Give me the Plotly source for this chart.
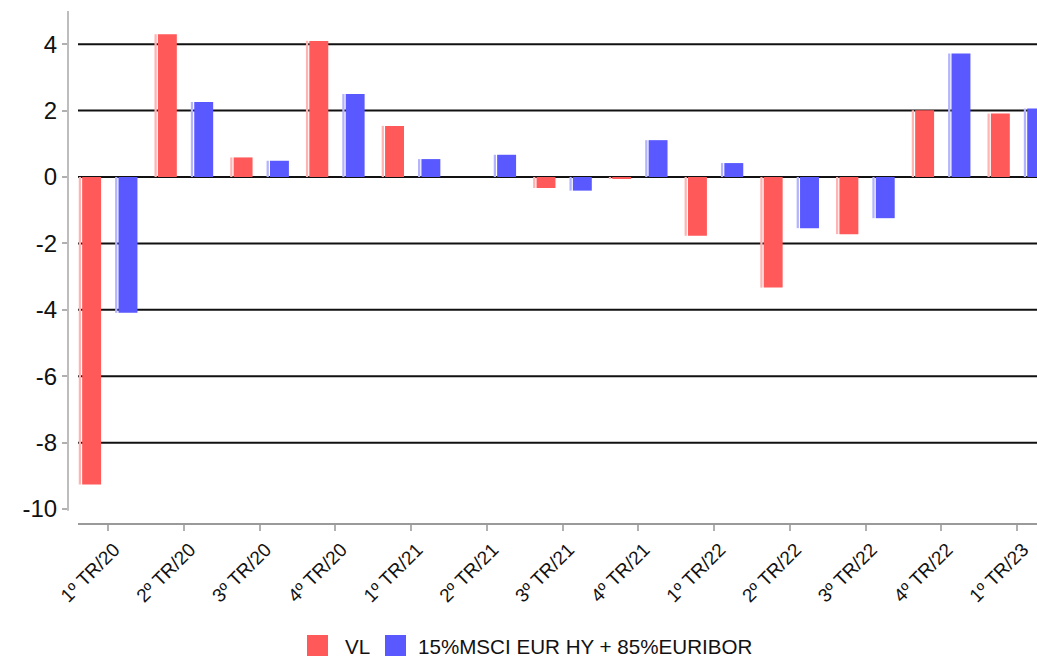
import plotly.graph_objects as go

# Quarterly returns (%)
quarters = ["1º TR/20", "2º TR/20", "3º TR/20", "4º TR/20", "1º TR/21", "2º TR/21",
            "3º TR/21", "4º TR/21", "1º TR/22", "2º TR/22", "3º TR/22", "4º TR/22", "1º TR/23"]
vl = [-9.26, 4.30, 0.59, 4.10, 1.54, 0.00, -0.33, -0.04, -1.77, -3.33, -1.72, 2.01, 1.91]
benchmark = [-4.09, 2.26, 0.49, 2.50, 0.54, 0.67, -0.41, 1.11, 0.42, -1.54, -1.24, 3.72, 2.06]

series_names = ["VL", "15%MSCI EUR HY + 85%EURIBOR"]
y_ticks = [-10, -8, -6, -4, -2, 0, 2, 4]
y_tick_text = ["-10", "-8", "-6", "-4", "-2", "0", "2", "4"]
grid_values = [-8, -6, -4, -2, 0, 2, 4]

RED, RED_EDGE = "#ff5959", "#ffb3b3"
BLUE, BLUE_EDGE = "#5959ff", "#b3b3ff"

# plot-area geometry in pixels (for paper-referenced decorations)
W, H = 1037, 658
L, R, T, B = 78, 0, 11, 135
PW, PH = W - L - R, H - T - B


def px_x(x):
    return (x - L) / PW


def px_y(y):
    return (H - B - y) / PH


fig = go.Figure()

# each bar: a thin light edge strip, then the solid body
for vals, color, edge, strip_off, body_off in [
    (vl, RED, RED_EDGE, -0.39, -0.345),
    (benchmark, BLUE, BLUE_EDGE, 0.09, 0.135),
]:
    fig.add_trace(go.Bar(x=quarters, y=vals, offset=strip_off, width=0.03,
                         marker=dict(color=edge, line=dict(width=0)),
                         showlegend=False, hoverinfo="skip"))
    fig.add_trace(go.Bar(x=quarters, y=vals, offset=body_off, width=0.25,
                         marker=dict(color=color, line=dict(width=0)),
                         showlegend=False))

# horizontal grid lines (none at the bottom -10 tick)
shapes = [
    dict(type="line", xref="paper", yref="y", x0=0, x1=1, y0=v, y1=v,
         line=dict(color="#111", width=2), layer="below")
    for v in grid_values
]
shapes += [
    # y axis line (ends at -10)
    dict(type="line", xref="paper", yref="y", x0=px_x(68), x1=px_x(68),
         y0=-10.05, y1=5.0, line=dict(color="#bdbdbd", width=2), layer="above"),
    # legend swatches
    dict(type="rect", xref="paper", yref="paper",
         x0=px_x(307), x1=px_x(328), y0=px_y(656), y1=px_y(635),
         fillcolor=RED, line=dict(width=0)),
    dict(type="rect", xref="paper", yref="paper",
         x0=px_x(385), x1=px_x(406), y0=px_y(656), y1=px_y(635),
         fillcolor=BLUE, line=dict(width=0)),
]

fig.update_layout(
    width=W, height=H,
    margin=dict(l=L, r=R, t=T, b=B),
    paper_bgcolor="white", plot_bgcolor="white",
    barmode="overlay",
    font=dict(family="Liberation Sans, Arial, sans-serif", color="#111"),
    xaxis=dict(
        type="category", range=[-0.4, 12.264],
        showgrid=False, zeroline=False,
        showline=True, linecolor="#9a9a9a", linewidth=2,
        ticks="outside", ticklen=6, tickwidth=1.5, tickcolor="#b0b0b0",
        tickangle=-45, tickfont=dict(size=19, color="#111"),
        ticklabelshift=6,
    ),
    yaxis=dict(
        range=[-10.42, 5.0],
        anchor="free", position=0, shift=-10,
        tickmode="array", tickvals=y_ticks, ticktext=y_tick_text,
        showgrid=False, zeroline=False, showline=False,
        ticks="outside", ticklen=6, tickwidth=1.5, tickcolor="#b0b0b0",
        tickfont=dict(size=24, color="#111"),
    ),
    shapes=shapes,
    annotations=[
        dict(xref="paper", yref="paper", x=px_x(343), y=px_y(646), text=series_names[0],
             showarrow=False, xanchor="left", yanchor="middle",
             font=dict(size=20.6, color="#111")),
        dict(xref="paper", yref="paper", x=px_x(416), y=px_y(646), text=series_names[1],
             showarrow=False, xanchor="left", yanchor="middle",
             font=dict(size=20.6, color="#111")),
    ],
)

fig.write_html("out.html")
